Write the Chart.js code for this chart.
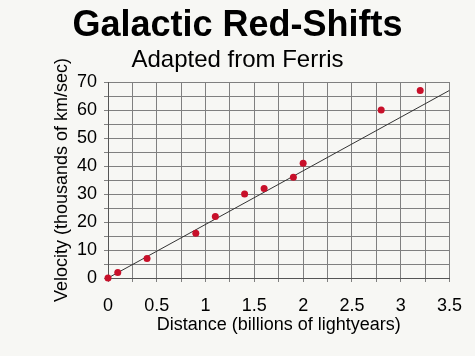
<!DOCTYPE html>
<html>
<head>
<meta charset="utf-8">
<script src="https://cdn.jsdelivr.net/npm/chart.js@4/dist/chart.umd.min.js"></script>
<style>
  html, body { margin: 0; padding: 0; background: #f7f7f4; }
  #wrap { width: 475px; height: 356px; position: relative; }
</style>
</head>
<body>
<div id="wrap"><canvas id="c" width="475" height="356"></canvas></div>
<script>
const distances = [0, 0.1, 0.4, 0.9, 1.1, 1.4, 1.6, 1.9, 2.0, 2.8, 3.2];
const velocities = [0, 2, 7, 16, 22, 30, 32, 36, 41, 60, 67];
const fitX = [0, 3.5];
const fitY = [0, 67];
const xTickLabels = [0, 0.5, 1, 1.5, 2, 2.5, 3, 3.5];
const yTickLabels = [0, 10, 20, 30, 40, 50, 60, 70];

const FONT = "'Liberation Sans', Arial, sans-serif";

const pts = distances.map((d, i) => ({ x: d, y: velocities[i] }));
const fit = fitX.map((d, i) => ({ x: d, y: fitY[i] }));

new Chart(document.getElementById('c'), {
  type: 'scatter',
  data: {
    datasets: [
      {
        type: 'line',
        data: fit,
        borderColor: '#333333',
        borderWidth: 1,
        pointRadius: 0,
        fill: false,
        order: 2
      },
      {
        data: pts,
        backgroundColor: '#c8102a',
        borderColor: '#c8102a',
        pointRadius: 3.5,
        borderWidth: 0,
        clip: false,
        order: 1
      }
    ]
  },
  options: {
    responsive: false,
    animation: false,
    layout: { padding: { left: 23, right: 23, top: 0, bottom: 0 } },
    plugins: {
      legend: { display: false },
      tooltip: { enabled: false },
      title: {
        display: true,
        text: 'Galactic Red-Shifts',
        color: '#000',
        font: { family: FONT, size: 36, weight: 'bold', lineHeight: 1.1 },
        padding: { top: 6, bottom: 0 }
      },
      subtitle: {
        display: true,
        text: 'Adapted from Ferris',
        color: '#000',
        font: { family: FONT, size: 24, lineHeight: 1.2 },
        padding: { top: 0, bottom: 7.6 }
      }
    },
    scales: {
      x: {
        type: 'linear',
        min: 0,
        max: 3.5,
        afterFit: (s) => { s.height = 78; },
        ticks: {
          stepSize: 0.25,
          color: '#000',
          font: { family: FONT, size: 18 },
          padding: 13,
          maxRotation: 0,
          autoSkip: false,
          callback: (v) => xTickLabels.some(t => Math.abs(t - v) < 1e-9) ? String(v) : ''
        },
        grid: { color: '#808080', lineWidth: 1, tickLength: 4, drawTicks: true },
        border: { color: '#555', width: 1 },
        title: {
          display: true,
          text: 'Distance (billions of lightyears)',
          color: '#000',
          font: { family: FONT, size: 18, lineHeight: 1.2 },
          padding: { top: 0, bottom: 20 }
        }
      },
      y: {
        type: 'linear',
        min: 0,
        max: 70,
        afterFit: (s) => { s.width = 85; },
        ticks: {
          stepSize: 5,
          color: '#000',
          font: { family: FONT, size: 18 },
          padding: 7,
          autoSkip: false,
          callback: (v) => yTickLabels.includes(v) ? String(v) : ''
        },
        grid: { color: '#808080', lineWidth: 1, tickLength: 4, drawTicks: true },
        border: { color: '#555', width: 1 },
        title: {
          display: true,
          text: 'Velocity (thousands of km/sec)',
          color: '#000',
          font: { family: FONT, size: 18, lineHeight: 1.2 },
          padding: { top: 28, bottom: 0 }
        }
      }
    }
  }
});
</script>
</body>
</html>
